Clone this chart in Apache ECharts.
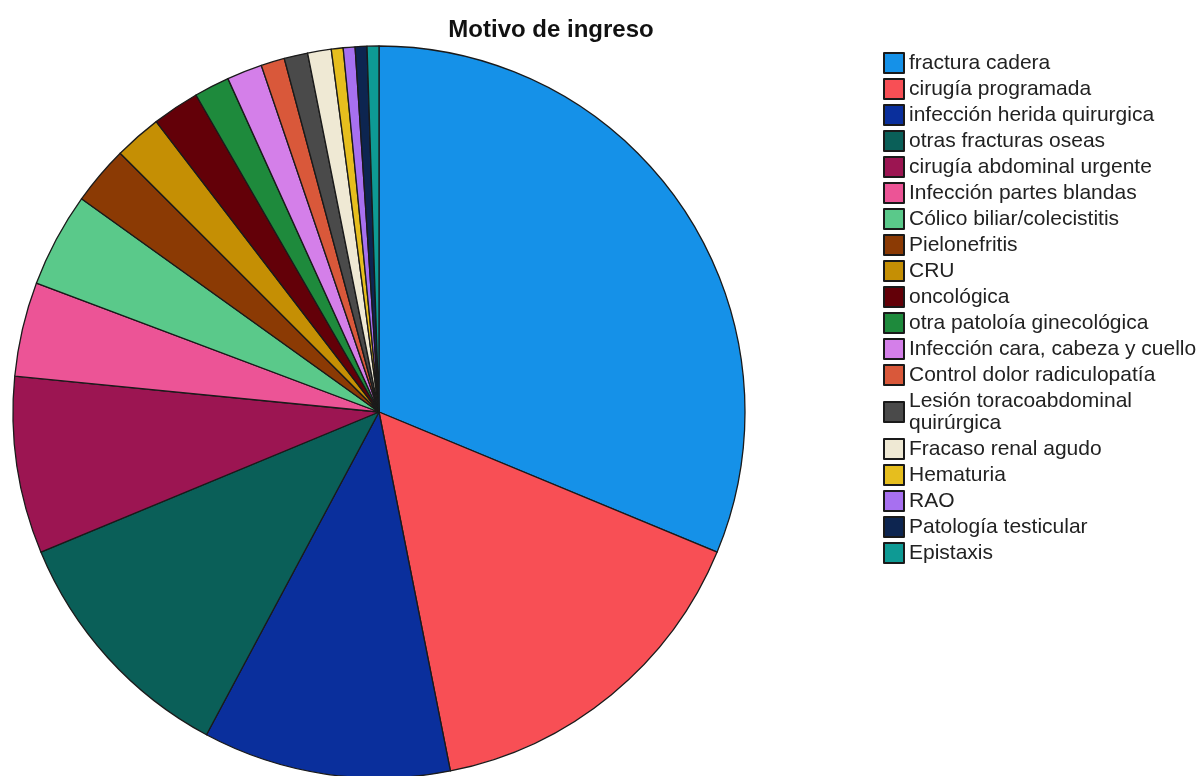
<!DOCTYPE html>
<html lang="es">
<head>
    <meta charset="UTF-8">
    <title>Motivo de ingreso</title>
    <script src="https://cdn.jsdelivr.net/npm/echarts@6/dist/echarts.min.js"></script>
</head>
<body style="margin:0;width:1198px;height:776px;background:#fff">
    <div id="container" style="width:1198px;height:776px"></div>
</body>
<script>
    var motivos = ['fractura cadera', 'cirugía programada', 'infección herida quirurgica',
        'otras fracturas oseas', 'cirugía abdominal urgente', 'Infección partes blandas',
        'Cólico biliar/colecistitis', 'Pielonefritis', 'CRU', 'oncológica',
        'otra patoloía ginecológica', 'Infección cara, cabeza y cuello',
        'Control dolor radiculopatía', 'Lesión toracoabdominal quirúrgica',
        'Fracaso renal agudo', 'Hematuria', 'RAO', 'Patología testicular', 'Epistaxis'];
    var casos = [60, 30, 21, 21, 15, 8, 8, 5, 4, 4, 3, 3, 2, 2, 2, 1, 1, 1, 1];
    var colores = ['#1591e8', '#f84f55', '#0a2f9c', '#0a5f58', '#9c1552', '#ec5496',
        '#5ac98a', '#8b3a04', '#c58f04', '#630008', '#1e8a3c', '#d47fe9',
        '#d9583a', '#4a4a4a', '#efe9d4', '#e6be1e', '#a770f0', '#0d2550', '#0e9a94'];

    var datos = [];
    for (var i = 0; i < motivos.length; i++) {
        datos.push({name: motivos[i], value: casos[i], itemStyle: {color: colores[i]}});
    }

    var dom = document.getElementById("container");
    var myChart = echarts.init(dom);

    var option = {
        animation: false,
        title: {
            text: 'Motivo de ingreso',
            left: 546,
            top: 13,
            textAlign: 'center',
            textStyle: {fontFamily: 'Liberation Sans', fontSize: 24, fontWeight: 'bold', color: '#111'}
        },
        legend: {
            orient: 'vertical',
            left: 883,
            top: 52,
            padding: 0,
            itemWidth: 20,
            itemHeight: 20,
            itemGap: 4,
            icon: 'rect',
            data: motivos,
            formatter: function (n) {
                return n === 'Lesión toracoabdominal quirúrgica' ? 'Lesión toracoabdominal\nquirúrgica' : n;
            },
            textStyle: {fontFamily: 'Liberation Sans', fontSize: 21, lineHeight: 22, color: '#222'}
        },
        series: [{
            type: 'pie',
            center: [379, 412],
            radius: 366,
            startAngle: 90,
            clockwise: true,
            label: {show: false},
            labelLine: {show: false},
            emphasis: {disabled: true},
            itemStyle: {borderColor: '#1a1a1a', borderWidth: 1.3},
            data: datos
        }]
    };
    myChart.setOption(option, true);
</script>
</html>
